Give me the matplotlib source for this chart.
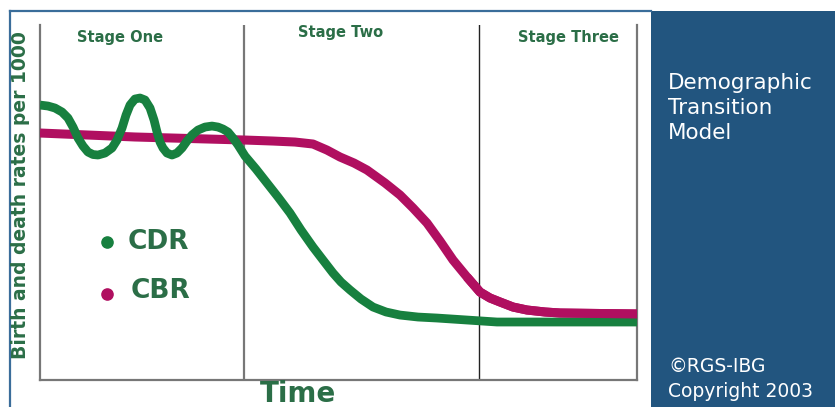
import numpy as np
import matplotlib.pyplot as plt
from matplotlib.patches import Rectangle
from matplotlib.lines import Line2D

# time runs 0..100 across the plot, rates per 1000
cdr_t = [0, 1.34, 2.51, 3.69, 4.69, 5.53, 6.37, 7.20, 8.04, 8.88,
         9.72, 10.89, 12.06, 12.90, 13.74, 14.41, 15.08, 15.91, 16.75, 17.59,
         18.43, 19.10, 19.60, 20.10, 20.60, 21.27, 22.11, 22.95, 23.79, 24.62,
         25.46, 26.47, 27.64, 28.81, 29.82, 30.65, 31.49, 32.33, 33.17, 34.34,
         36.18, 38.02, 39.87, 41.88, 43.72, 45.73, 47.40, 49.08, 50.42, 51.93,
         53.77, 55.78, 57.96, 60.30, 63.32, 66.50, 71.52, 76.55, 87.10, 100]
cdr = [38.73, 38.59, 38.31, 37.75, 36.90, 35.63, 34.08, 32.96, 32.11, 31.76,
       31.69, 31.97, 32.68, 33.80, 35.49, 37.32, 38.73, 39.58, 39.72, 39.44,
       38.31, 36.62, 34.93, 33.52, 32.68, 31.97, 31.69, 31.97, 32.68, 33.66,
       34.51, 35.21, 35.63, 35.77, 35.63, 35.35, 34.93, 34.08, 33.10, 31.55,
       29.72, 27.75, 25.77, 23.52, 21.13, 18.73, 16.90, 15.07, 13.80, 12.68,
       11.41, 10.28, 9.58, 9.15, 8.87, 8.73, 8.45, 8.17, 8.17, 8.17]
cbr_t = [0, 15.91, 34.34, 39.03, 42.71, 45.73, 48.07, 50.25, 52.60, 54.77,
         57.79, 60.30, 62.48, 64.82, 67.00, 69.18, 71.52, 73.70, 75.38, 77.05,
         79.23, 81.57, 84.59, 87.10, 100]
cbr = [34.79, 34.23, 33.80, 33.66, 33.52, 33.24, 32.39, 31.41, 30.56, 29.58,
       27.75, 26.06, 24.23, 22.11, 19.58, 16.90, 14.51, 12.39, 11.55, 10.99,
       10.28, 9.86, 9.58, 9.44, 9.30]
stage_bounds = [34.2, 73.5]
stage_names = ['Stage One', 'Stage Two', 'Stage Three']
stage_label_x = [13.4, 50.3, 88.6]
stage_label_y = [48.3, 48.9, 48.2]

green = '#17803f'
magenta = '#b00f60'
text_green = '#2b6e47'
panel_blue = '#22557f'

fig = plt.figure(figsize=(8.35, 4.07), dpi=100)
fig.patch.set_facecolor('white')

# blue side panel and thin outer border
fig.patches.append(Rectangle((0.7796, 0), 0.2204, 0.973, transform=fig.transFigure,
                             facecolor=panel_blue, edgecolor='none', zorder=0))
fig.add_artist(Line2D([0.012, 0.78], [0.973, 0.973], transform=fig.transFigure,
                      color='#3a6d9a', lw=1.6))
fig.add_artist(Line2D([0.012, 0.012], [0, 0.973], transform=fig.transFigure,
                      color='#3a6d9a', lw=1.6))

ax = fig.add_axes([0.0479, 0.0663, 0.715, 0.8722])
ax.set_xlim(0, 100)
ax.set_ylim(0, 50)
ax.set_xticks([])
ax.set_yticks([])
ax.spines['top'].set_visible(False)
for s in ['left', 'bottom', 'right']:
    ax.spines[s].set_color('#777777')
    ax.spines[s].set_linewidth(1.6)

ax.axvline(stage_bounds[0], color='#777777', lw=1.6)
ax.axvline(stage_bounds[1], color='#222222', lw=1.0)

ax.plot(cbr_t, cbr, color=magenta, lw=6.5, solid_capstyle='butt', solid_joinstyle='round', zorder=3)
ax.plot(cdr_t, cdr, color=green, lw=6.3, solid_capstyle='butt', solid_joinstyle='round', zorder=4)
# CBR sits on top of CDR in the flat stage three part
late = np.array(cbr_t) >= 71.5
ax.plot(np.array(cbr_t)[late], np.array(cbr)[late], color=magenta, lw=6.5,
        solid_capstyle='butt', solid_joinstyle='round', zorder=5)

for name, x, y in zip(stage_names, stage_label_x, stage_label_y):
    ax.text(x, y, name, ha='center', va='center', fontsize=10.5, fontweight='bold', color=text_green)

# legend-like labels
ax.scatter([0.112], [0.389], s=65, color=green, transform=ax.transAxes, zorder=6)
ax.scatter([0.112], [0.242], s=65, color=magenta, transform=ax.transAxes, zorder=6)
ax.text(0.147, 0.389, 'CDR', transform=ax.transAxes, ha='left', va='center',
        fontsize=19, fontweight='bold', color=text_green)
ax.text(0.152, 0.252, 'CBR', transform=ax.transAxes, ha='left', va='center',
        fontsize=19, fontweight='bold', color=text_green)

fig.text(0.024, 0.52, 'Birth and death rates per 1000', rotation=90, ha='center', va='center',
         fontsize=13.5, fontweight='bold', color=text_green)
fig.text(0.357, 0.033, 'Time', ha='center', va='center', fontsize=20, fontweight='bold',
         color=text_green)

fig.text(0.80, 0.735, 'Demographic\nTransition\nModel', ha='left', va='center',
         fontsize=15.5, color='white', linespacing=1.3)
fig.text(0.80, 0.069, '\u00a9RGS-IBG\nCopyright 2003', ha='left', va='center',
         fontsize=13.5, color='white', linespacing=1.35)

fig.savefig('out.png', dpi=100)
